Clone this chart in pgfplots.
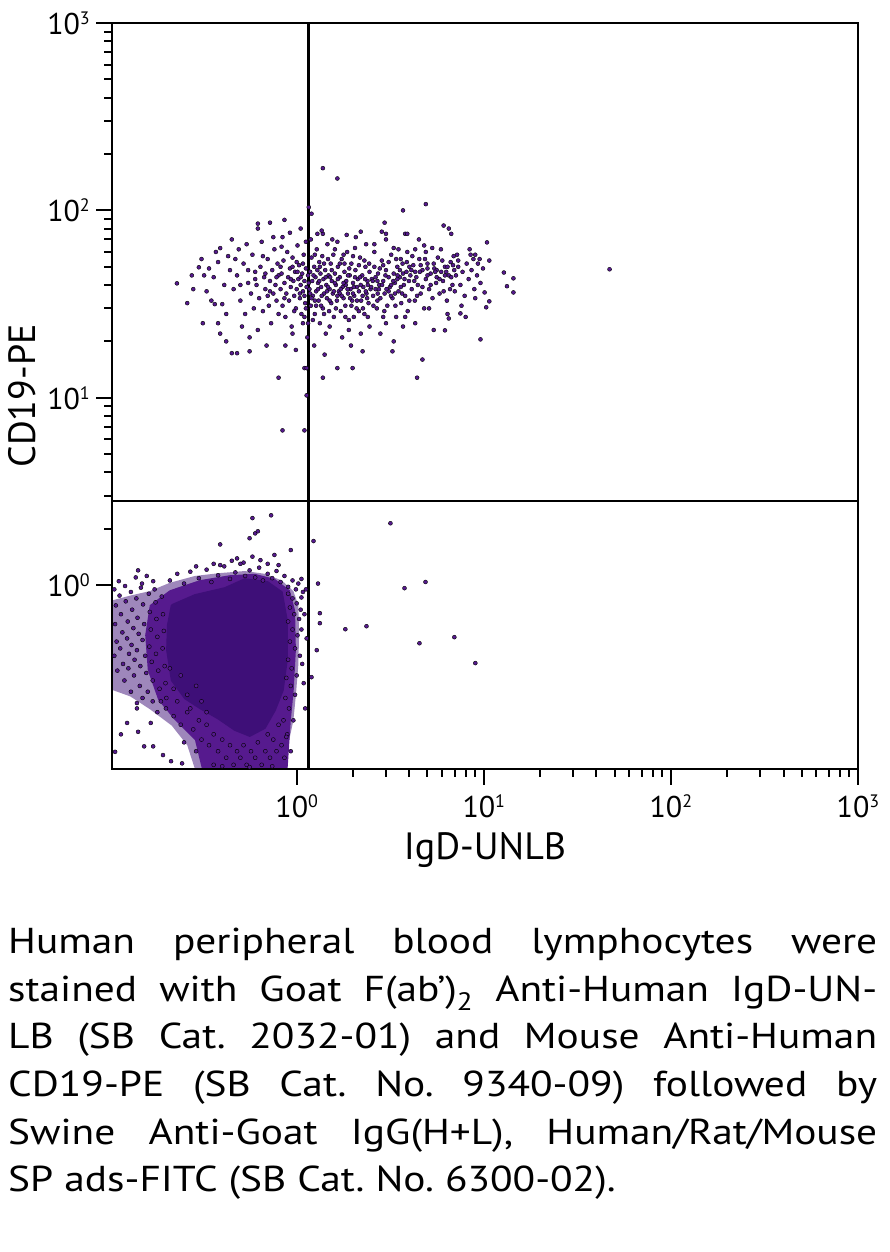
\documentclass[border=0pt]{standalone}
\usepackage{fontspec}
\setmainfont{PT Sans}
\newfontfamily\capfont{PT Sans}[FakeStretch=1.15]
\usepackage{pgfplots}
\usepackage{pgfplotstable}
\pgfplotsset{compat=1.18}
\definecolor{dotcol}{RGB}{86,26,142}
\definecolor{corecol}{RGB}{62,15,120}
\newcommand\sps[1]{\raisebox{10pt}{\fontsize{18}{18}\selectfont #1}}

% B-cell cluster (upper left quadrant / upper right quadrant)
\pgfplotstableread[row sep=\\]{x y\\
0.229 40.8\\ 0.275 45\\ 0.30 49.7\\ 0.34 49\\ 0.315 25\\ 0.38 25\\ 0.365 31.6\\ 0.40 31.6\\ 0.39 62.9\\ 0.45 70\\
0.45 17.3\\ 0.48 17.3\\ 0.56 17.7\\ 0.62 85\\ 0.62 80\\ 0.72 86\\ 0.86 89\\ 0.80 12.8\\ 0.84 6.7\\ 1.10 6.7\\
1.13 10.3\\ 1.16 104\\ 1.20 96\\ 1.38 168\\ 1.65 148\\ 4.9 108\\ 3.7 100\\ 4.7 16\\ 4.4 12.8\\ 1.38 12.8\\
1.65 14.4\\ 1.99 14.4\\ 1.10 14.4\\ 1.13 14.4\\ 3.25 17.7\\ 2.25 17.7\\ 47 48.5\\ 14.4 36.5\\ 14.4 43.4\\ 13.3 39.4\\
12.8 46.6\\ 10.4 67.5\\ 10.7 54\\ 9.6 20.5\\ 10.3 30.4\\ 10.7 32.7\\ 9.0 58\\ 9.3 52\\ 10.1 36.5\\ 9.0 34\\
7.5 28.2\\ 6.5 26.5\\ 6.2 22.9\\ 6.7 75\\ 6.1 83\\ 6.5 80\\ 2.95 86\\ 2.85 77\\ 3.0 75\\ 2.2 77\\
2.07 72\\ 1.38 75\\ 1.29 75\\ 3.8 75\\ 3.9 75\\ 4.9 60\\ 5.3 63\\ 8.5 58\\ 8.8 55\\ 9.5 55\\ 7.2 58\\ 7.3 54\\
0.46 38\\ 0.48 45\\ 0.50 33\\ 0.52 52\\ 0.53 28\\ 0.55 41\\ 0.57 36\\ 0.58 58\\ 0.60 47\\ 0.47 55\\ 0.51 24\\ 0.56 21\\ 0.49 62\\ 0.54 66\\ 0.59 30\\
0.33 37\\ 0.36 44\\ 0.38 53\\ 0.41 40\\ 0.42 28\\ 0.43 57\\ 0.35 33\\ 0.32 45\\ 0.39 22\\ 0.44 48\\ 0.37 60\\ 0.28 38\\ 0.26 32\\ 0.31 55\\ 0.42 20\\
0.61 40\\ 0.63 34\\ 0.64 50\\ 0.66 29\\ 0.67 44\\ 0.68 38\\ 0.70 55\\ 0.71 31\\ 0.72 42\\ 0.73 25\\ 0.74 48\\ 0.75 36\\ 0.76 62\\ 0.77 40\\ 0.78 33\\ 0.79 52\\
0.62 23\\ 0.65 68\\ 0.69 19\\ 0.75 72\\ 0.80 45\\ 0.80 28\\ 0.66 57\\ 0.70 35\\
0.82 38\\ 0.83 46\\ 0.84 31\\ 0.85 54\\ 0.86 41\\ 0.87 27\\ 0.88 36\\ 0.89 60\\ 0.90 44\\ 0.91 33\\ 0.92 49\\ 0.93 39\\ 0.94 24\\ 0.95 56\\ 0.96 42\\
0.97 35\\ 0.98 47\\ 0.99 30\\ 1.00 38\\ 1.01 65\\ 1.02 43\\ 1.03 51\\ 1.04 34\\ 1.05 40\\ 1.06 28\\ 1.07 46\\ 1.08 37\\ 1.09 58\\ 1.10 42\\ 1.11 32\\
1.12 49\\ 1.13 39\\ 1.14 21\\ 1.15 45\\ 0.84 72\\ 0.92 76\\ 0.99 18\\ 1.05 80\\ 1.12 68\\ 0.87 19\\ 0.95 22\\ 1.08 25\\ 0.83 64\\ 1.00 53\\ 1.10 35\\
1.17 38\\ 1.18 47\\ 1.19 31\\ 1.20 56\\ 1.21 42\\ 1.22 35\\ 1.24 50\\ 1.25 28\\ 1.26 44\\ 1.27 37\\ 1.28 62\\ 1.30 41\\ 1.31 33\\ 1.32 53\\ 1.33 25\\
1.34 46\\ 1.35 39\\ 1.37 57\\ 1.38 30\\ 1.39 43\\ 1.40 36\\ 1.42 48\\ 1.43 22\\ 1.44 40\\ 1.45 34\\ 1.46 66\\ 1.48 45\\ 1.49 29\\ 1.50 38\\ 1.52 52\\
1.53 32\\ 1.54 42\\ 1.56 36\\ 1.57 58\\ 1.58 27\\ 1.60 46\\ 1.19 70\\ 1.24 19\\ 1.36 78\\ 1.41 17\\ 1.47 55\\ 1.55 70\\ 1.29 48\\ 1.35 31\\ 1.51 44\\ 1.22 26\\
1.62 40\\ 1.64 33\\ 1.66 50\\ 1.68 37\\ 1.70 44\\ 1.72 29\\ 1.74 55\\ 1.76 39\\ 1.78 34\\ 1.80 47\\ 1.82 31\\ 1.84 42\\ 1.86 60\\ 1.88 36\\ 1.90 26\\
1.92 45\\ 1.94 38\\ 1.96 52\\ 1.98 33\\ 2.00 41\\ 2.03 35\\ 2.06 48\\ 2.09 30\\ 2.12 43\\ 2.15 37\\ 2.18 56\\ 2.21 33\\ 2.24 45\\ 2.27 39\\ 2.30 28\\
2.33 50\\ 2.36 36\\ 2.39 42\\ 2.42 32\\ 2.45 47\\ 2.48 38\\ 1.65 68\\ 1.75 21\\ 1.85 74\\ 1.95 19\\ 2.05 63\\ 2.2 22\\ 2.35 66\\ 2.45 24\\ 1.70 36\\
1.83 40\\ 1.93 34\\ 2.10 39\\ 2.25 35\\ 2.40 40\\ 1.78 58\\ 2.02 27\\
2.52 43\\ 2.56 35\\ 2.60 50\\ 2.64 38\\ 2.68 30\\ 2.72 46\\ 2.76 40\\ 2.80 34\\ 2.85 54\\ 2.90 42\\ 2.95 36\\ 3.00 48\\ 3.05 31\\ 3.10 44\\ 3.15 39\\
3.20 58\\ 3.25 34\\ 3.30 46\\ 3.35 41\\ 3.40 27\\ 3.45 50\\ 3.50 37\\ 3.56 44\\ 3.62 32\\ 3.68 52\\ 3.74 40\\ 3.80 35\\ 3.86 47\\ 3.92 29\\ 3.98 42\\
2.6 66\\ 2.8 22\\ 3.0 70\\ 3.3 20\\ 3.5 62\\ 3.7 24\\ 3.9 60\\ 2.7 42\\ 3.1 37\\ 3.6 39\\ 2.9 27\\ 3.4 55\\
4.05 45\\ 4.12 38\\ 4.20 51\\ 4.28 33\\ 4.36 44\\ 4.44 40\\ 4.52 55\\ 4.60 36\\ 4.70 48\\ 4.80 30\\ 4.90 43\\ 5.00 52\\ 5.10 38\\ 5.20 46\\ 5.32 34\\
5.44 49\\ 5.56 41\\ 5.68 56\\ 5.80 36\\ 5.92 47\\ 6.05 42\\ 6.20 50\\ 6.35 33\\ 6.50 45\\ 6.65 53\\ 6.80 40\\ 6.95 48\\ 4.3 25\\ 4.8 65\\ 5.4 23\\
5.9 62\\ 6.4 28\\ 6.9 57\\ 4.5 70\\ 5.1 30\\ 5.6 44\\ 6.1 37\\ 6.7 44\\ 4.15 57\\
7.1 45\\ 7.3 50\\ 7.5 40\\ 7.7 47\\ 7.9 35\\ 8.1 52\\ 8.3 43\\ 8.6 48\\ 8.9 38\\ 9.2 45\\ 9.6 41\\ 9.9 49\\ 7.6 31\\ 8.4 62\\ 7.0 37\\ 8.0 27\\
0.93 43\\ 0.97 29\\ 1.01 47\\ 1.04 36\\ 1.08 52\\ 1.12 30\\ 1.16 41\\ 1.2 34\\ 1.23 45\\ 1.27 31\\ 1.3 38\\ 1.33 50\\ 1.36 35\\ 1.4 28\\ 1.43 44\\
1.47 39\\ 1.5 33\\ 1.54 48\\ 1.58 37\\ 1.62 30\\ 1.66 43\\ 1.7 52\\ 1.74 35\\ 1.78 41\\ 1.82 27\\ 1.87 38\\ 1.91 49\\ 1.96 31\\ 2.0 36\\ 2.05 44\\
2.1 33\\ 2.15 51\\ 2.2 40\\ 2.26 30\\ 2.32 43\\ 2.38 34\\ 2.44 52\\ 2.5 39\\ 2.57 31\\ 2.64 44\\ 2.71 36\\ 2.78 49\\ 2.86 40\\ 2.94 29\\ 3.02 38\\
3.1 53\\ 3.19 35\\ 3.28 42\\ 3.37 31\\ 3.46 45\\ 3.56 48\\ 3.66 36\\ 3.77 43\\ 3.88 53\\ 4.0 33\\ 4.1 48\\ 4.25 42\\ 4.4 35\\ 4.55 47\\ 4.7 39\\
4.85 55\\ 5.0 45\\ 5.2 40\\ 5.4 52\\ 5.6 48\\ 5.8 43\\ 6.0 54\\ 6.2 45\\ 6.4 50\\ 6.6 38\\ 6.85 51\\ 0.68 46\\ 0.72 37\\ 0.78 44\\ 0.82 50\\
0.86 34\\ 0.6 43\\ 0.55 48\\ 0.5 40\\ 1.25 58\\ 1.6 62\\ 2.0 57\\ 2.6 60\\ 3.3 63\\ 4.3 62\\ 1.15 25\\ 1.5 24\\ 1.9 23\\ 2.4 27\\ 3.0 25\\ 3.8 27\\
1.05 44\\ 1.18 36\\ 1.32 42\\ 1.45 37\\ 1.6 41\\ 1.72 38\\ 1.88 45\\ 2.02 39\\ 2.18 44\\ 2.34 37\\ 2.55 42\\ 2.75 38\\ 2.98 45\\ 3.2 40\\ 3.45 43\\
3.7 46\\ 4.0 50\\ 4.3 47\\ 4.6 51\\ 5.0 49\\ 5.5 47\\ 6.3 47\\ 0.95 50\\ 1.1 27\\ 1.4 52\\ 1.8 52\\ 2.3 54\\ 2.9 51\\ 3.6 55\\ 1.25 33\\
1.65 35\\ 2.15 29\\ 2.7 33\\ 3.35 36\\
}\upperdots

% Lower (double-negative) population: scattered dots
\pgfplotstableread[row sep=\\]{x y\\
1.23 1.72\\ 1.30 1.02\\ 1.33 0.709\\ 1.33 0.627\\ 1.28 0.45\\ 1.20 0.323\\ 1.82 0.582\\ 2.36 0.604\\ 3.17 2.14\\ 3.77 0.964\\
4.88 1.04\\ 4.53 0.49\\ 6.96 0.528\\ 9.01 0.384\\ 0.58 2.28\\ 0.73 2.36\\ 0.60 1.89\\ 0.62 1.94\\ 0.56 1.78\\ 0.39 1.65\\
0.93 1.54\\ 0.29 1.26\\ 0.48 1.39\\ 0.142 1.20\\ 0.39 1.28\\ 1.06 1.08\\ 1.06 0.86\\ 0.124 0.184\\ 0.115 0.160\\ 0.142 0.165\\
0.153 0.138\\ 0.171 0.138\\ 0.107 0.129\\ 0.193 0.124\\ 0.213 0.115\\ 0.244 0.112\\ 0.166 0.184\\ 0.14 0.235\\
1.12 0.95\\ 1.10 0.70\\ 1.13 0.52\\ 1.09 0.30\\ 1.11 0.22\\
0.45 1.35\\ 0.52 1.32\\ 0.64 1.36\\ 0.70 1.30\\ 0.80 1.28\\ 0.36 1.30\\ 0.58 1.42\\ 0.76 1.45\\
0.106 0.95\\ 0.108 0.78\\ 0.107 0.62\\ 0.109 0.50\\ 0.106 0.42\\ 0.110 0.35\\ 0.113 0.88\\ 0.115 0.70\\ 0.117 0.56\\ 0.114 0.46\\
0.118 0.38\\ 0.120 0.31\\ 0.122 0.82\\ 0.125 0.64\\ 0.124 0.52\\ 0.127 0.43\\ 0.126 0.36\\ 0.130 0.92\\ 0.132 0.74\\ 0.134 0.59\\
0.131 0.48\\ 0.136 0.40\\ 0.135 0.33\\ 0.139 0.85\\ 0.141 0.67\\ 0.143 0.55\\ 0.140 0.45\\ 0.146 0.37\\ 0.145 0.29\\ 0.149 1.02\\
0.151 0.79\\ 0.153 0.62\\ 0.150 0.51\\ 0.155 0.42\\ 0.157 0.34\\ 0.160 0.27\\ 0.162 0.90\\ 0.164 0.72\\ 0.166 0.58\\ 0.163 0.47\\
0.168 0.39\\ 0.170 0.31\\ 0.174 0.95\\ 0.176 0.81\\ 0.178 0.66\\ 0.180 0.53\\ 0.177 0.43\\ 0.182 0.35\\ 0.185 0.28\\ 0.188 0.24\\
0.190 0.87\\ 0.193 0.70\\ 0.195 0.57\\ 0.192 0.46\\ 0.197 0.37\\ 0.199 0.30\\ 0.201 0.25\\ 0.112 1.05\\ 0.121 0.99\\ 0.138 1.10\\
0.147 0.97\\ 0.158 1.12\\ 0.171 1.05\\
0.21 1.06\\ 0.23 1.15\\ 0.25 1.02\\ 0.27 1.18\\ 0.30 1.09\\ 0.33 1.21\\ 0.35 1.04\\ 0.38 1.13\\ 0.41 1.26\\ 0.44 1.08\\
0.47 1.17\\ 0.50 1.30\\ 0.53 1.12\\ 0.56 1.20\\ 0.60 1.10\\ 0.63 1.24\\ 0.66 1.06\\ 0.70 1.15\\ 0.74 1.09\\ 0.78 1.19\\
0.82 1.04\\ 0.86 1.12\\ 0.90 0.98\\ 0.95 1.06\\ 0.99 0.95\\ 1.02 1.02\\
0.90 0.90\\ 0.95 0.85\\ 1.00 0.80\\ 0.92 0.76\\ 0.97 0.70\\ 1.03 0.66\\ 0.90 0.64\\ 0.95 0.58\\ 1.01 0.54\\ 0.92 0.50\\
0.98 0.46\\ 1.04 0.42\\ 0.90 0.40\\ 0.94 0.36\\ 1.00 0.33\\ 0.88 0.32\\ 0.93 0.29\\ 0.98 0.26\\ 0.87 0.25\\ 0.91 0.22\\
0.96 0.19\\ 0.85 0.19\\ 0.89 0.16\\ 1.05 0.74\\ 1.06 0.58\\ 1.07 0.38\\ 1.08 0.92\\
0.22 0.20\\ 0.24 0.18\\ 0.26 0.21\\ 0.28 0.17\\ 0.30 0.19\\ 0.31 0.15\\ 0.33 0.18\\ 0.34 0.14\\ 0.36 0.16\\ 0.38 0.13\\
0.40 0.15\\ 0.42 0.12\\ 0.44 0.14\\ 0.46 0.11\\ 0.48 0.13\\ 0.50 0.12\\ 0.52 0.14\\ 0.54 0.11\\ 0.57 0.13\\ 0.60 0.12\\
0.62 0.145\\ 0.65 0.11\\ 0.68 0.13\\ 0.70 0.16\\ 0.72 0.12\\ 0.75 0.15\\ 0.78 0.13\\ 0.80 0.18\\ 0.83 0.14\\ 0.86 0.12\\
0.88 0.155\\ 0.93 0.13\\ 0.36 0.11\\ 0.29 0.13\\ 0.25 0.145\\ 0.40 0.108\\ 0.56 0.107\\ 0.74 0.108\\
0.21 0.36\\ 0.22 0.28\\ 0.23 0.24\\ 0.24 0.33\\ 0.26 0.26\\ 0.27 0.22\\ 0.29 0.29\\ 0.31 0.24\\ 0.33 0.21\\ 0.20 0.22\\
0.18 0.21\\ 0.17 0.24\\ 0.15 0.25\\ 0.13 0.27\\ 0.14 0.22\\
}\lowerdots

% outer (sparse) halo of the lower population
\pgfplotstableread[row sep=\\]{x y\\
0.09 0.80\\ 0.129 0.88\\ 0.164 0.93\\ 0.210 1.03\\ 0.286 1.12\\ 0.388 1.16\\ 0.528 1.19\\ 0.675 1.15\\ 0.832 1.06\\ 0.96 0.93\\
1.02 0.782\\ 1.03 0.541\\ 1.02 0.374\\ 0.99 0.259\\ 0.96 0.19\\ 0.90 0.140\\ 0.82 0.09\\ 0.30 0.09\\ 0.26 0.140\\ 0.215 0.178\\
0.164 0.218\\ 0.129 0.255\\ 0.09 0.29\\ 0.09 0.80\\
}\halotab

% inner (dense) halo of the lower population
\pgfplotstableread[row sep=\\]{x y\\
0.164 0.782\\ 0.210 0.94\\ 0.304 1.064\\ 0.439 1.13\\ 0.597 1.15\\ 0.764 1.08\\ 0.918 0.94\\ 0.98 0.735\\ 0.99 0.450\\ 0.964 0.275\\
0.93 0.19\\ 0.885 0.09\\ 0.323 0.09\\ 0.286 0.149\\ 0.224 0.19\\ 0.182 0.244\\ 0.160 0.352\\ 0.155 0.541\\ 0.164 0.782\\
}\innertab

% saturated core of the lower population
\pgfplotstableread[row sep=\\]{x y\\
0.215 0.782\\ 0.286 0.885\\ 0.413 0.964\\ 0.528 1.076\\ 0.700 1.037\\ 0.832 0.918\\ 0.885 0.650\\ 0.885 0.398\\ 0.842 0.275\\ 0.764 0.215\\
0.675 0.173\\ 0.561 0.157\\ 0.467 0.169\\ 0.379 0.195\\ 0.304 0.221\\ 0.253 0.249\\ 0.215 0.311\\ 0.203 0.450\\ 0.205 0.612\\ 0.215 0.782\\
}\coretab

\begin{document}
\begin{tikzpicture}
\path[use as bounding box] (0pt,0pt) rectangle (889pt,1252pt);
\begin{axis}[
  at={(112pt,483pt)}, anchor=south west,
  width=746pt, height=746pt, scale only axis,
  xmode=log, ymode=log,
  xmin=0.103, xmax=1000, ymin=0.1045, ymax=1000,
  axis on top,
  axis line style={line width=2.2pt, black},
  every tick/.style={black, line width=2pt},
  major tick length=16pt, minor tick length=8pt,
  tick align=outside, tick pos=left,
  xtick={1,10,100,1000}, ytick={1,10,100,1000},
  xticklabels={10\sps{0},10\sps{1},10\sps{2},10\sps{3}},
  yticklabels={10\sps{0},10\sps{1},10\sps{2},10\sps{3}},
  ticklabel style={font=\fontsize{30}{32}\selectfont, inner sep=0pt},
  xticklabel style={anchor=north, yshift=-10pt},
  yticklabel style={anchor=east, xshift=-6pt},
  xlabel={IgD-UNLB}, ylabel={CD19-PE},
  every axis x label/.style={at={(axis description cs:0.5,0)}, anchor=base, yshift=-91pt, font=\fontsize{38}{40}\selectfont},
  every axis y label/.style={at={(axis description cs:0,0.5)}, anchor=center, rotate=90, yshift=90pt, font=\fontsize{38}{40}\selectfont},
]
\addplot[draw=none, fill=corecol!50!white] table {\halotab};
\addplot[draw=none, fill=dotcol] table {\innertab};
\addplot[draw=corecol, line width=2pt, fill=corecol] table {\coretab};
\addplot[only marks, mark=*, mark size=2pt, mark options={draw=none, fill=dotcol}] table {\lowerdots};
\addplot[only marks, mark=*, mark size=2pt, mark options={draw=none, fill=dotcol}] table {\upperdots};
\addplot[black, line width=2.6pt] coordinates {(1.16,0.09) (1.16,1100)};
\addplot[black, line width=2.6pt] coordinates {(0.09,2.82) (1100,2.82)};
\end{axis}
\node[anchor=north west, inner sep=0pt, text width=869pt, align=justify,
      font=\capfont\fontsize{36}{47.6}\selectfont] at (8pt,324pt) {\frenchspacing
\makebox[869pt][s]{Human peripheral blood lymphocytes were}\\
\makebox[869pt][s]{stained with Goat F(ab’)\textsubscript{2} Anti-Human IgD-UN-}\\
\makebox[869pt][s]{LB (SB Cat. 2032-01) and Mouse Anti-Human}\\
\makebox[869pt][s]{CD19-PE (SB Cat. No. 9340-09) followed by}\\
\makebox[869pt][s]{Swine Anti-Goat IgG(H+L), Human/Rat/Mouse}\\
SP ads-FITC (SB Cat. No. 6300-02).};
\end{tikzpicture}
\end{document}
